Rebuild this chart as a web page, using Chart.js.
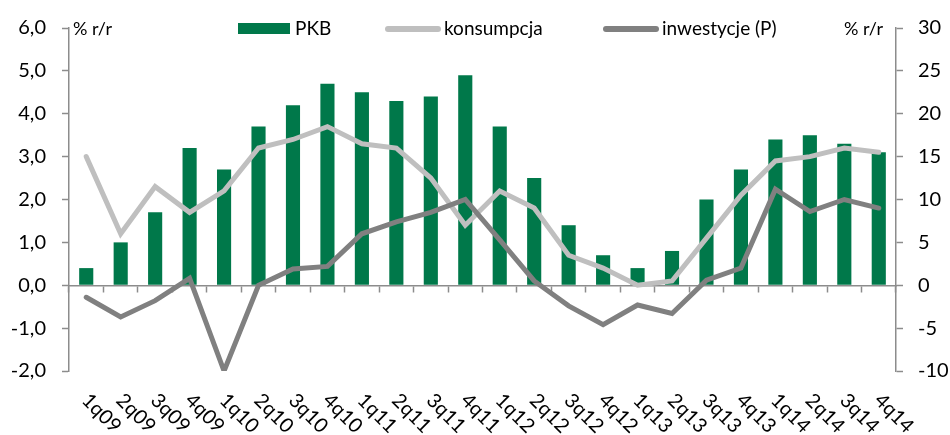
<!DOCTYPE html>
<html>
<head>
<meta charset="utf-8">
<script src="https://cdn.jsdelivr.net/npm/chart.js@4"></script>
<style>
  html, body { margin: 0; padding: 0; background: #ffffff; }
  #wrap { width: 950px; height: 435px; position: relative; }
</style>
</head>
<body>
<div id="wrap"><canvas id="c" width="950" height="435"></canvas></div>
<script>
const categories = ['1q09','2q09','3q09','4q09','1q10','2q10','3q10','4q10','1q11','2q11','3q11','4q11',
                    '1q12','2q12','3q12','4q12','1q13','2q13','3q13','4q13','1q14','2q14','3q14','4q14'];
const pkb = [0.4, 1.0, 1.7, 3.2, 2.7, 3.7, 4.2, 4.7, 4.5, 4.3, 4.4, 4.9,
             3.7, 2.5, 1.4, 0.7, 0.4, 0.8, 2.0, 2.7, 3.4, 3.5, 3.3, 3.1];
const konsumpcja = [3.0, 1.2, 2.3, 1.7, 2.2, 3.2, 3.4, 3.7, 3.3, 3.2, 2.5, 1.4,
                    2.2, 1.8, 0.7, 0.4, 0.0, 0.1, 1.1, 2.1, 2.9, 3.0, 3.2, 3.1];
const inwestycje = [-1.4, -3.7, -1.8, 0.8, -10.0, 0.0, 1.9, 2.2, 6.0, 7.4, 8.5, 10.0,
                    5.3, 0.5, -2.4, -4.6, -2.3, -3.3, 0.6, 2.0, 11.2, 8.6, 10.0, 9.0];
const seriesNames = ['PKB', 'konsumpcja', 'inwestycje (P)'];
const axisUnitLabel = '% r/r';

const GREEN = '#00784A';
const LIGHT = '#BFBFBF';
const DARK = '#808080';
const AXIS = '#8C8C8C';
const FONT = 'Lato, "Liberation Sans", sans-serif';

const decorPlugin = {
  id: 'decor',
  afterDraw(chart) {
    const ctx = chart.ctx;
    const xs = chart.scales.x;
    const ca = chart.chartArea;
    ctx.save();
    // rotated category labels
    ctx.fillStyle = '#000';
    ctx.font = '20px ' + FONT;
    ctx.textAlign = 'left';
    ctx.textBaseline = 'middle';
    categories.forEach((lab, i) => {
      const px = xs.getPixelForValue(i);
      ctx.save();
      ctx.translate(px - 1, ca.bottom + 26);
      ctx.rotate(Math.PI / 4);
      ctx.fillText(lab, 0, 0);
      ctx.restore();
    });
    // unit labels
    ctx.font = '18px ' + FONT;
    ctx.textAlign = 'left';
    ctx.fillText(axisUnitLabel, ca.left + 4, ca.top + 1);
    ctx.textAlign = 'right';
    ctx.fillText(axisUnitLabel, ca.right - 13, ca.top + 1);
    // legend
    const ly = ca.top + 1;
    ctx.font = '19px ' + FONT;
    ctx.textAlign = 'left';
    ctx.fillStyle = GREEN;
    ctx.fillRect(238, ly - 6, 52, 11);
    ctx.fillStyle = '#000';
    ctx.fillText(seriesNames[0], 295, ly);
    ctx.lineCap = 'round';
    ctx.lineWidth = 6;
    ctx.strokeStyle = LIGHT;
    ctx.beginPath(); ctx.moveTo(388, ly); ctx.lineTo(438, ly); ctx.stroke();
    ctx.fillText(seriesNames[1], 444, ly);
    ctx.strokeStyle = DARK;
    ctx.beginPath(); ctx.moveTo(606, ly); ctx.lineTo(656, ly); ctx.stroke();
    ctx.fillText(seriesNames[2], 662, ly);
    ctx.restore();
  }
};

new Chart(document.getElementById('c'), {
  type: 'bar',
  data: {
    labels: categories,
    datasets: [
      {
        label: seriesNames[0], data: pkb, yAxisID: 'y', order: 3,
        backgroundColor: GREEN, borderWidth: 0,
        categoryPercentage: 1.0, barPercentage: 0.41
      },
      {
        type: 'line', label: seriesNames[1], data: konsumpcja, yAxisID: 'y', order: 2,
        borderColor: LIGHT, backgroundColor: LIGHT, borderWidth: 5,
        pointRadius: 0, tension: 0, borderCapStyle: 'round'
      },
      {
        type: 'line', label: seriesNames[2], data: inwestycje, yAxisID: 'y1', order: 1,
        borderColor: DARK, backgroundColor: DARK, borderWidth: 5,
        pointRadius: 0, tension: 0, borderCapStyle: 'round'
      }
    ]
  },
  options: {
    responsive: false,
    animation: false,
    devicePixelRatio: 1,
    layout: { padding: { left: 0, right: 0, top: 23, bottom: 64 } },
    plugins: { legend: { display: false }, tooltip: { enabled: false } },
    scales: {
      x: {
        position: { y: 0 },
        offset: true,
        grid: { display: true, offset: true, drawOnChartArea: false, drawTicks: true,
                tickLength: 6, tickColor: AXIS, tickWidth: 1.5 },
        border: { display: true, color: AXIS, width: 1.5 },
        ticks: { display: false }
      },
      y: {
        position: 'left', min: -2, max: 6,
        afterFit(s) { s.width = 69; },
        ticks: { stepSize: 1, padding: 16, color: '#000',
                 font: { family: FONT, size: 20 },
                 callback: v => v.toFixed(1).replace('.', ',') },
        grid: { drawOnChartArea: false, drawTicks: true, tickLength: 7, tickColor: AXIS, tickWidth: 1.5 },
        border: { display: true, color: AXIS, width: 1.5 }
      },
      y1: {
        position: 'right', min: -10, max: 30,
        afterFit(s) { s.width = 54; },
        ticks: { stepSize: 5, padding: 15, color: '#000',
                 font: { family: FONT, size: 20 },
                 callback: v => String(v) },
        grid: { drawOnChartArea: false, drawTicks: true, tickLength: 7, tickColor: AXIS, tickWidth: 1.5 },
        border: { display: true, color: AXIS, width: 1.5 }
      }
    }
  },
  plugins: [decorPlugin]
});
</script>
</body>
</html>
